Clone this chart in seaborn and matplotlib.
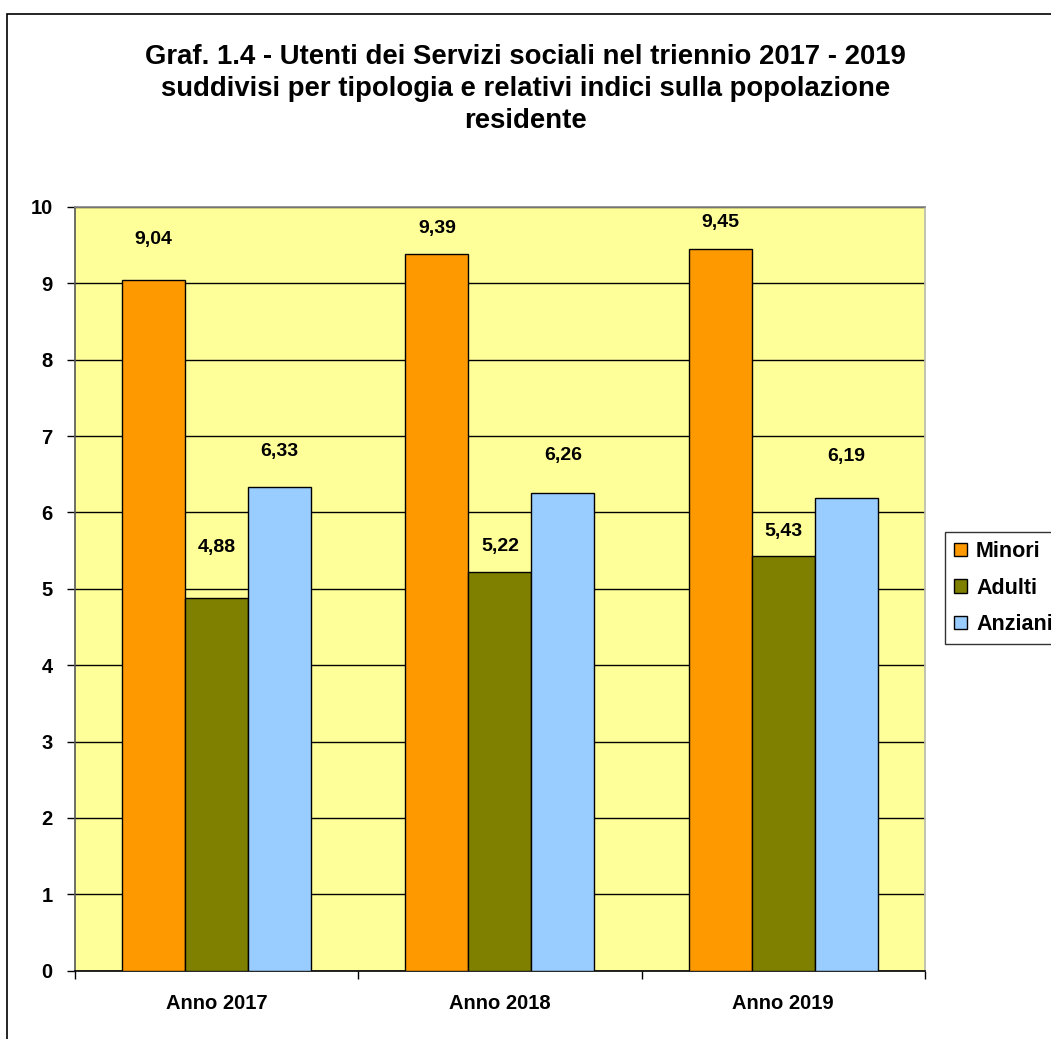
import seaborn as sns
import matplotlib.pyplot as plt
import pandas as pd
from matplotlib.patches import Rectangle

# data
anni = ["Anno 2017", "Anno 2018", "Anno 2019"]
minori = [9.04, 9.39, 9.45]
adulti = [4.88, 5.22, 5.43]
anziani = [6.33, 6.26, 6.19]
serie = ["Minori", "Adulti", "Anziani"]
colori = ["#FF9900", "#808000", "#99CCFF"]
# label distance above each bar (pixels), labels were moved by hand in the original
label_offset = [[41, 25, 26], [51, 26, 25], [36, 37, 41]]

df = pd.DataFrame({
    "anno": anni * 3,
    "tipo": ["Minori"] * 3 + ["Adulti"] * 3 + ["Anziani"] * 3,
    "valore": minori + adulti + anziani,
})

sns.set_theme(style="white")
plt.rcParams['font.family'] = ['Liberation Sans', 'DejaVu Sans']
plt.rcParams['font.weight'] = 'bold'
plt.rcParams['text.color'] = 'black'
plt.rcParams['xtick.color'] = 'black'
plt.rcParams['ytick.color'] = 'black'
plt.rcParams['axes.labelcolor'] = 'black'

fig = plt.figure(figsize=(10.51, 10.39), dpi=100)
ax = fig.add_axes([0.0714, 0.0657, 0.8086, 0.7351])
ax.set_facecolor("#FFFF99")

sns.barplot(data=df, x="anno", y="valore", hue="tipo", hue_order=serie,
            palette=colori, width=0.667, gap=0, edgecolor="black",
            linewidth=1, saturation=1, ax=ax, zorder=3)

for cont, offs in zip(ax.containers, label_offset):
    for bar, v, off in zip(cont, cont.datavalues, offs):
        ax.annotate(f"{v:.2f}".replace(".", ","),
                    (bar.get_x() + bar.get_width() / 2, bar.get_height()),
                    xytext=(0, off), textcoords="offset pixels",
                    ha="center", va="center", fontsize=14, fontweight="bold")

ax.set_ylim(0, 10)
ax.set_xlim(-0.5, 2.5)
ax.set_yticks(range(0, 11))
ax.yaxis.grid(True, color="black", linewidth=1)
ax.set_axisbelow(True)
ax.set_xticks([-0.5, 0.5, 1.5, 2.5], minor=True)
ax.set_xticks([0, 1, 2])
ax.set_xticklabels(anni)
ax.tick_params(axis="x", which="major", length=0, pad=17, labelsize=14.5)
ax.tick_params(axis="x", which="minor", length=6, width=1, color="black", direction="out", bottom=True)
ax.tick_params(axis="y", length=6, width=1, color="black", direction="out", left=True, pad=10, labelsize=14.5)
for t in ax.get_xticklabels() + ax.get_yticklabels():
    t.set_fontweight("bold")
ax.set_xlabel("")
ax.set_ylabel("")
ax.spines["left"].set_color("#555555")
ax.spines["bottom"].set_color("black")
ax.spines["left"].set_linewidth(1.2)
ax.spines["bottom"].set_linewidth(1.2)
ax.spines["top"].set_color("#888888")
ax.spines["right"].set_color("#bbbbaa")

leg = ax.legend(loc="upper left", bbox_to_anchor=(945 / 1051, 1 - 532 / 1039),
                bbox_transform=fig.transFigure, frameon=True, fancybox=False,
                edgecolor="black", fontsize=15.5, handlelength=0.6, handleheight=0.6,
                handletextpad=0.42, labelspacing=0.72, borderpad=0.42, borderaxespad=0)
leg.get_frame().set_linewidth(1)
for t in leg.get_texts():
    t.set_fontweight("bold")

fig.text(0.5, 1 - 89 / 1039,
         "Graf. 1.4 - Utenti dei Servizi sociali nel triennio 2017 - 2019\n"
         "suddivisi per tipologia e relativi indici sulla popolazione\nresidente",
         ha="center", va="center", fontsize=19.8, fontweight="bold", linespacing=1.31)

fig.patches.append(Rectangle((7 / 1051, -0.5), 2, 1.5 - 14 / 1039,
                             transform=fig.transFigure, fill=False,
                             edgecolor="black", linewidth=1.2))

fig.savefig("out.png", dpi=100)
